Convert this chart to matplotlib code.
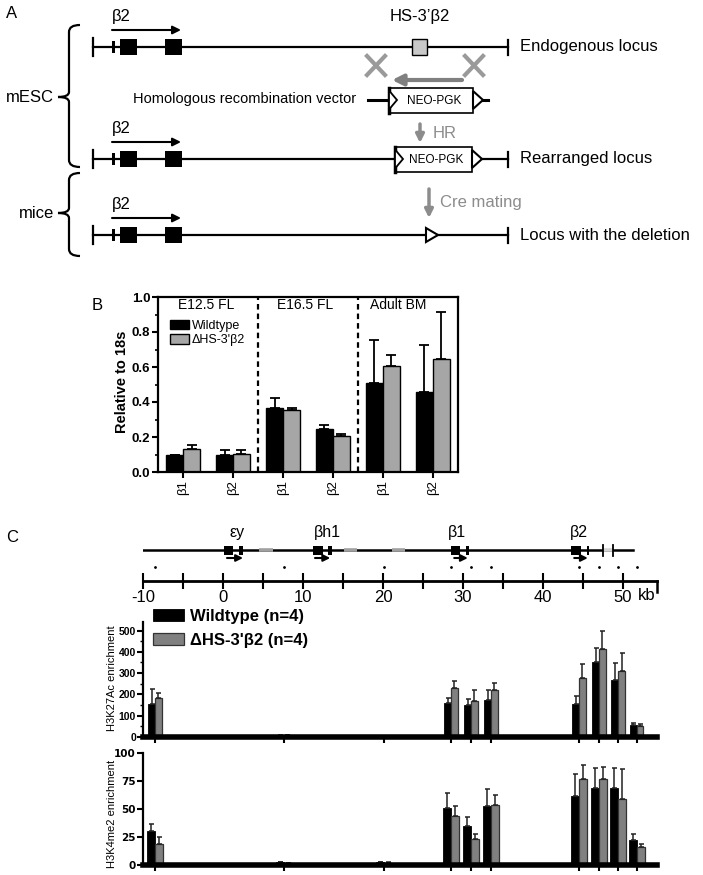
import matplotlib

matplotlib.use("Agg")
import matplotlib.pyplot as plt
import numpy as np
from matplotlib.patches import Rectangle, Polygon, PathPatch
from matplotlib.path import Path

plt.rcParams["font.family"] = ["Liberation Sans", "DejaVu Sans"]
NARROW = ["Liberation Sans Narrow", "Liberation Sans", "DejaVu Sans"]

# ---- panel B: transcript levels relative to 18s
b_genes = ["β1", "β2", "β1", "β2", "β1", "β2"]
b_stages = ["E12.5 FL", "E16.5 FL", "Adult BM"]
b_wt = [0.095, 0.098, 0.365, 0.248, 0.51, 0.455]
b_wt_err = [0.005, 0.028, 0.06, 0.018, 0.245, 0.27]
b_ko = [0.133, 0.105, 0.355, 0.205, 0.605, 0.645]
b_ko_err = [0.022, 0.02, 0.01, 0.01, 0.065, 0.27]

# ---- panel C: locus map (kb) and ChIP
kb_ticks = np.arange(-10, 51, 5)
gene_names = ["εy", "βh1", "β1", "β2"]
gene_pos = [1.75, 13.0, 29.25, 44.5]
gene_exons = [[(0.1, 1.25), (2.0, 2.5)], [(11.25, 12.5), (13.1, 13.6)],
              [(28.5, 29.6), (30.4, 30.75)], [(43.5, 44.75), (45.5, 45.75)]]
gene_arrows = [(0.5, 2.5), (11.5, 13.4), (28.9, 30.6), (43.9, 45.6)]
repeats = [(4.5, 6.25), (15.1, 16.75), (21.1, 22.75)]
hs_site = (47.5, 48.75)
primers = [-8.5, 7.6, 20.1, 28.5, 31.0, 33.5, 44.5, 47.0, 49.4, 51.7]
k27_wt = [156, 6, 1, 160, 148, 176, 157, 354, 267, 57]
k27_wt_err = [70, 3, 0.5, 24, 30, 44, 36, 66, 79, 9]
k27_ko = [182, 8, 1, 228, 168, 223, 275, 412, 308, 53]
k27_ko_err = [25, 3, 0.5, 34, 54, 32, 66, 88, 88, 10]
k4_wt = [30.4, 2.5, 2.5, 51.2, 34.8, 53, 61.6, 68.8, 68.5, 22.3]
k4_wt_err = [6.6, 0.5, 0.5, 13.4, 8.4, 15, 19.4, 18.2, 17.8, 5.7]
k4_ko = [18.8, 1.5, 2, 43.8, 22.9, 53.3, 76.8, 76.8, 58.6, 15.8]
k4_ko_err = [6.5, 0.5, 0.5, 9.2, 5.1, 9.2, 12.2, 11, 26.8, 3]

W, H = 703, 875
fig = plt.figure(figsize=(W / 100, H / 100), dpi=100)


def axes_px(x0, y0, x1, y1):
    return fig.add_axes([x0 / W, 1 - y1 / H, (x1 - x0) / W, (y1 - y0) / H])


ov = fig.add_axes([0, 0, 1, 1])
ov.set_xlim(0, W)
ov.set_ylim(H, 0)
ov.axis("off")


def arrow(ax, x0, y0, x1, y1, color="k", lw=1.5, ms=12):
    ax.annotate("", xy=(x1, y1), xytext=(x0, y0),
                arrowprops=dict(arrowstyle="-|>", color=color, lw=lw,
                                mutation_scale=ms, shrinkA=0, shrinkB=0))


def brace(x, y0, y1, ym):
    verts = [(x + 11, y0), (x, y0), (x, y0 + 7), (x, ym - 5), (x, ym), (x - 11, ym),
             (x, ym), (x, ym + 5), (x, y1 - 7), (x, y1), (x + 11, y1)]
    codes = [Path.MOVETO, Path.CURVE3, Path.CURVE3, Path.LINETO, Path.CURVE3, Path.CURVE3,
             Path.CURVE3, Path.CURVE3, Path.LINETO, Path.CURVE3, Path.CURVE3]
    ov.add_patch(PathPatch(Path(verts, codes), fill=False, lw=1.6, ec="k"))


def neo_box(x0, x1, yc, h=25):
    ov.add_patch(Rectangle((x0, yc - h / 2), x1 - x0, h, fc="white", ec="k", lw=1.2, zorder=3))
    ov.plot([x0, x0], [yc - h / 2, yc + h / 2], color="k", lw=2.5, zorder=4)
    ov.add_patch(Polygon([(x0, yc - h / 2 + 3), (x0 + 8, yc), (x0, yc + h / 2 - 3)],
                         fc="white", ec="k", lw=1.3, zorder=4))
    ov.add_patch(Polygon([(x1, yc - 9), (x1 + 10, yc), (x1, yc + 9)],
                         fc="white", ec="k", lw=1.5, zorder=4))
    ov.text((x0 + x1) / 2 + 3, yc + 1, "NEO-PGK", fontsize=8.5, ha="center", va="center", zorder=5)


# ---------------- panel A
ov.text(12, 13, "A", fontsize=12, ha="center", va="center")
rows_y = [47, 159, 235]
row_text = ["Endogenous locus", "Rearranged locus", "Locus with the deletion"]
for y, t in zip(rows_y, row_text):
    ov.plot([93, 508], [y, y], color="k", lw=1.6)
    ov.plot([93, 93], [y - 9, y + 9], color="k", lw=1.6)
    ov.plot([508, 508], [y - 7, y + 8], color="k", lw=1.6)
    ov.add_patch(Rectangle((112, y - 6), 3, 12, fc="k", ec="none"))
    for bx in (120, 165):
        ov.add_patch(Rectangle((bx, y - 8), 17, 16, fc="k", ec="none"))
    arrow(ov, 112, y - 17, 181, y - 17, lw=1.5, ms=12)
    ov.text(112, y - 30, "β2", fontsize=12, ha="left", va="center")
    ov.text(520, y, t, fontsize=12, ha="left", va="center")

ov.add_patch(Rectangle((412, 39), 15, 16, fc="#c8c8c8", ec="k", lw=1, zorder=3))
ov.text(420, 17, "HS-3’β2", fontsize=12, ha="center", va="center")
for xc in (376, 474):
    ov.plot([xc - 9, xc + 9], [56, 75], color="#9a9a9a", lw=3)
    ov.plot([xc - 9, xc + 9], [75, 56], color="#9a9a9a", lw=3)
arrow(ov, 462, 80, 392, 80, color="#808080", lw=3, ms=16)
ov.text(133, 99, "Homologous recombination vector", fontsize=10.5, ha="left", va="center")
ov.plot([368, 488], [100, 100], color="k", lw=2.2)
neo_box(389, 473, 100)
arrow(ov, 420, 124, 420, 143, color="#8c8c8c", lw=2.5, ms=12)
ov.text(433, 133, "HR", fontsize=12, color="#8c8c8c", ha="left", va="center")
neo_box(395, 472, 159)
arrow(ov, 429, 189, 429, 218, color="#8c8c8c", lw=2.5, ms=12)
ov.text(440, 203, "Cre mating", fontsize=12, color="#8c8c8c", ha="left", va="center")
ov.add_patch(Polygon([(426, 228), (438, 235), (426, 242)], fc="white", ec="k", lw=1.5, zorder=4))

brace(69, 25, 167, 97)
brace(69, 173, 256, 213)
ov.text(54, 97, "mESC", fontsize=12, ha="right", va="center")
ov.text(54, 213, "mice", fontsize=12, ha="right", va="center")

# ---------------- panel B
ov.text(97, 305, "B", fontsize=12, ha="center", va="center")
axB = axes_px(158, 297, 458, 472)
xb = np.arange(len(b_genes)) + 0.5
wb = 0.34
ekw = dict(ecolor="k", elinewidth=1.3, capsize=3.5, capthick=1.3)
axB.bar(xb - wb / 2, b_wt, wb, color="k", edgecolor="k", lw=1,
        yerr=[np.zeros(len(b_wt)), b_wt_err], error_kw=ekw, label="Wildtype")
axB.bar(xb + wb / 2, b_ko, wb, color="#a6a6a6", edgecolor="k", lw=1,
        yerr=[np.zeros(len(b_ko)), b_ko_err], error_kw=ekw, label="ΔHS-3'β2")
axB.set_xlim(0, 6)
axB.set_ylim(0, 1.0)
for xv in (2, 4):
    axB.axvline(xv, color="k", lw=1.6, ls=(0, (2.5, 1.8)))
for xc, s in zip([0.96, 2.94, 4.8], b_stages):
    axB.text(xc, 0.955, s, fontsize=10, ha="center", va="center")
axB.set_yticks(np.arange(0, 1.01, 0.2))
axB.set_yticklabels([f"{v:.1f}" for v in np.arange(0, 1.01, 0.2)], fontweight="bold")
axB.set_yticks(np.arange(0.1, 1.0, 0.2), minor=True)
axB.set_xticks(xb)
axB.set_xticklabels(b_genes, rotation=90)
axB.tick_params(axis="y", which="major", length=4, width=1.5, labelsize=9.5, pad=1.5)
axB.tick_params(axis="y", which="minor", length=2.5, width=1.2)
axB.tick_params(axis="x", length=4, width=1.5, labelsize=9.5, pad=2)
for sp in axB.spines.values():
    sp.set_linewidth(1.6)
axB.legend(loc="upper left", bbox_to_anchor=(0.04, 0.87), frameon=False, fontsize=9,
           handlelength=1.5, handleheight=0.8, labelspacing=0.2, handletextpad=0.25,
           borderpad=0, borderaxespad=0)
ov.text(122, 382, "Relative to 18s", fontsize=10.5, fontweight="bold", rotation=90,
        ha="center", va="center")

# ---------------- panel C: map
ov.text(12, 537, "C", fontsize=12, ha="center", va="center")
XL = (-10, 54.25)
axM = axes_px(143, 520, 657, 600)
axM.set_xlim(*XL)
axM.set_ylim(600, 520)
for s in ("left", "right", "top"):
    axM.spines[s].set_visible(False)
axM.spines["bottom"].set_position(("data", 581))
axM.spines["bottom"].set_linewidth(2)
axM.set_yticks([])
axM.set_xticks(kb_ticks)
axM.set_xticklabels([str(v) if v % 10 == 0 else "" for v in kb_ticks])
axM.tick_params(axis="x", direction="inout", length=11, width=1.5, labelsize=12, pad=1)
axM.plot([XL[1], XL[1]], [581, 592], color="k", lw=1.8, clip_on=False)
axM.text(51.9, 588, "kb", fontsize=12, ha="left", va="top")

axM.plot([-10, 51.25], [550, 550], color="k", lw=1.8)
for a, b in repeats:
    axM.plot([a, b], [550, 550], color="#a0a0a0", lw=2.6, solid_capstyle="butt")
axM.plot(hs_site, [550, 550], color="#d4d4d4", lw=2.6, solid_capstyle="butt")
for xv in hs_site:
    axM.plot([xv, xv], [545, 556], color="k", lw=1.3)
for name, xc, exons, (a0, a1) in zip(gene_names, gene_pos, gene_exons, gene_arrows):
    for e0, e1 in exons:
        axM.add_patch(Rectangle((e0, 546), e1 - e0, 9, fc="k", ec="none"))
    arrow(axM, a0, 558, a1, 558, lw=1.5, ms=10)
    axM.text(xc, 533, name, fontsize=11.5, ha="center", va="center")
axM.plot(primers, [567] * len(primers), "k.", ms=2)


# ---------------- panel C: ChIP
def chip_axes(ax, wt, wt_err, ko, ko_err, width, ymax, major, minor, tick_font):
    p = np.array(primers)
    ekw = dict(ecolor="#222222", elinewidth=1.1, capsize=1.8, capthick=1.1)
    ax.bar(p - width / 2, wt, width, color="k", edgecolor="k", lw=0.6,
           yerr=[np.zeros(len(wt)), wt_err], error_kw=ekw, label="Wildtype (n=4)")
    ax.bar(p + width / 2, ko, width, color="#808080", edgecolor="#333333", lw=0.9,
           yerr=[np.zeros(len(ko)), ko_err], error_kw=ekw, label="ΔHS-3'β2 (n=4)")
    ax.set_xlim(*XL)
    ax.set_ylim(0, ymax)
    ax.spines["top"].set_visible(False)
    ax.spines["right"].set_visible(False)
    ax.spines["bottom"].set_linewidth(4)
    ax.spines["left"].set_linewidth(1.6)
    ax.set_xticks(primers)
    ax.set_xticklabels([])
    ax.set_yticks(major)
    ax.set_yticklabels([str(v) for v in major], fontweight="bold", family=tick_font)
    if minor is not None:
        ax.set_yticks(minor, minor=True)
    ax.tick_params(axis="x", length=4, width=1.5)
    ax.tick_params(axis="y", which="major", length=4, width=1.5, labelsize=7.5, pad=1)
    ax.tick_params(axis="y", which="minor", length=2, width=1)


axU = axes_px(143, 622, 657, 737)
chip_axes(axU, k27_wt, k27_wt_err, k27_ko, k27_ko_err, 0.85, 540,
          list(range(0, 501, 100)), list(range(50, 501, 100)), NARROW)
axU.legend(loc="upper left", bbox_to_anchor=(10 / 514, (737 - 609) / 115), frameon=False,
           prop=dict(family=NARROW, weight="bold", size=12), handlelength=1.85,
           handleheight=0.72, labelspacing=0.55, handletextpad=0.35, borderpad=0,
           borderaxespad=0)
ov.text(112, 678, "H3K27Ac enrichment", fontsize=8, family=NARROW, rotation=90,
        ha="center", va="center")

axL = axes_px(143, 753, 657, 865)
chip_axes(axL, k4_wt, k4_wt_err, k4_ko, k4_ko_err, 1.0, 100,
          [0, 25, 50, 75, 100], None, ["DejaVu Sans"])
ov.text(112, 814, "H3K4me2 enrichment", fontsize=8, family=NARROW, rotation=90,
        ha="center", va="center")

fig.savefig("out.png", dpi=100)
